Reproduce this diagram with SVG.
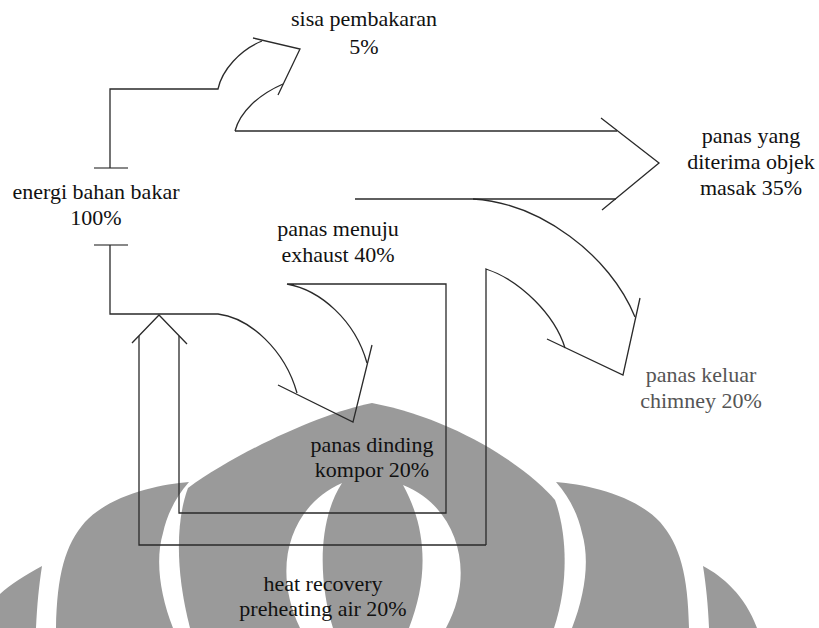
<svg xmlns="http://www.w3.org/2000/svg" width="819" height="628" viewBox="0 0 819 628">
<style>
.wm{fill:#9a9a9a;stroke:none}
.cut{fill:#ffffff;stroke:none}
.ln{fill:none;stroke:#2a2a2a;stroke-width:1.3;stroke-linejoin:miter}
.tee{fill:none;stroke:#888;stroke-width:2}
.lbl{font-family:'Liberation Serif',serif;font-size:22px;fill:#111;text-anchor:middle}
.g{fill:#555}
</style>
<g id="watermark">
<path class="wm" d="M372,403 C325,412 240,450 188,488 C176,520 175,570 190,628 L554,628 C570,580 566,530 555,500 C530,470 460,420 372,403 Z"/>
<path class="cut" d="M342,483 C292,505 270,565 300,628 L333,628 C318,580 318,520 342,483 Z"/>
<path class="cut" d="M403,485 C455,505 478,570 446,628 L409,628 C428,580 428,530 403,485 Z"/>
<path class="wm" d="M189,482 C160,484 110,495 85,522 C65,545 57,575 56,628 L173,628 C160,595 155,560 163,533 C167,515 175,498 189,482 Z"/>
<path class="wm" d="M556,482 C585,484 635,495 660,522 C680,545 688,575 689,628 L572,628 C585,595 590,560 582,533 C578,515 570,498 556,482 Z"/>
<path class="wm" d="M42,566 C25,575 10,585 0,594 L0,628 L36,628 C37,605 39,585 42,566 Z"/>
<path class="wm" d="M703,566 C722,576 745,595 757,628 L709,628 C708,605 706,585 703,566 Z"/>
</g>
<g id="connectors">
<path class="tee" d="M94,168 H128 M94,245 H128"/>
<path class="ln" d="M110,168 V89 H218 C222,70 240,50 262,41"/>
<path class="ln" d="M253,38 L300,49 L278,95"/>
<path class="ln" d="M235,131 C240,112 258,95 283,84"/>
<path class="ln" d="M235,131 H617" style="stroke-width:1.6"/>
<path class="ln" d="M601,118 L659,163 L602,210"/>
<path class="ln" d="M355,199 H616"/>
<path class="ln" d="M473,199 C540,203 610,255 635,317"/>
<path class="ln" d="M640,298 L623,375 L547,339"/>
<path class="ln" d="M486,545 V269 C520,280 555,315 565,348"/>
<path class="ln" d="M110,245 V314 H218 C250,318 285,350 297,393"/>
<path class="ln" d="M372,345 L353,422 L278,385"/>
<path class="ln" d="M367,363 C355,320 320,290 287,284 H446 V513 H179 V336"/>
<path class="ln" d="M132,343 L159,315 L187,344"/>
<path class="ln" d="M139,336 V545 H486"/>
</g>
<g id="n-sisa"><text class="lbl" font-family="Liberation Serif" x="364" y="26">sisa pembakaran</text><text class="lbl" font-family="Liberation Serif" x="364" y="54">5%</text></g>
<g id="n-energi"><text class="lbl" font-family="Liberation Serif" x="96" y="199">energi bahan bakar</text><text class="lbl" font-family="Liberation Serif" x="96" y="225">100%</text></g>
<g id="n-objek"><text class="lbl" font-family="Liberation Serif" x="751" y="143">panas yang</text><text class="lbl" font-family="Liberation Serif" x="751" y="169">diterima objek</text><text class="lbl" font-family="Liberation Serif" x="751" y="195">masak 35%</text></g>
<g id="n-exhaust"><text class="lbl" font-family="Liberation Serif" x="338" y="236">panas menuju</text><text class="lbl" font-family="Liberation Serif" x="338" y="262">exhaust 40%</text></g>
<g id="n-chimney"><text class="lbl g" font-family="Liberation Serif" x="701" y="382">panas keluar</text><text class="lbl g" font-family="Liberation Serif" x="701" y="408">chimney 20%</text></g>
<g id="n-dinding"><text class="lbl" font-family="Liberation Serif" x="372" y="452">panas dinding</text><text class="lbl" font-family="Liberation Serif" x="372" y="477">kompor 20%</text></g>
<g id="n-recovery"><text class="lbl" font-family="Liberation Serif" x="323" y="591">heat recovery</text><text class="lbl" font-family="Liberation Serif" x="323" y="616">preheating air 20%</text></g>
</svg>
